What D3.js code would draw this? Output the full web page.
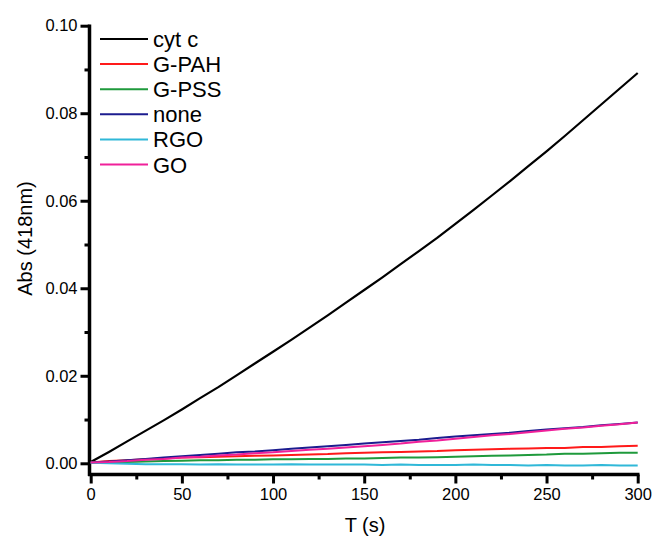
<!DOCTYPE html>
<html>
<head>
<meta charset="utf-8">
<script src="https://cdn.jsdelivr.net/npm/d3@7"></script>
<style>
  body { margin: 0; background: #fff; }
  svg text { font-family: "Liberation Sans", Arial, sans-serif; fill: #000; }
</style>
</head>
<body>
<div id="chart"></div>
<script>
// time points, every 10 s
const times = [0, 10, 20, 30, 40, 50, 60, 70, 80, 90, 100, 110, 120, 130, 140, 150,
  160, 170, 180, 190, 200, 210, 220, 230, 240, 250, 260, 270, 280, 290, 300];

// absorbance at 418 nm
const cytC = [0.0003, 0.0026, 0.0050, 0.0074, 0.0098, 0.0123, 0.0149, 0.0174, 0.0201, 0.0228,
  0.0255, 0.0282, 0.0310, 0.0338, 0.0367, 0.0396, 0.0425, 0.0455, 0.0485, 0.0515,
  0.0547, 0.0579, 0.0612, 0.0645, 0.0679, 0.0713, 0.0748, 0.0784, 0.0820, 0.0856, 0.0892];
const gPAH = [0.0002, 0.0005, 0.0007, 0.0009, 0.0011, 0.0013, 0.0014, 0.0015, 0.0016, 0.0017,
  0.0018, 0.0019, 0.0020, 0.0021, 0.0023, 0.0024, 0.0025, 0.0026, 0.0027, 0.0028,
  0.0030, 0.0031, 0.0032, 0.0033, 0.0034, 0.0035, 0.0035, 0.0037, 0.0037, 0.0039, 0.0040];
const gPSS = [0.0001, 0.0002, 0.0003, 0.0004, 0.0005, 0.0006, 0.0007, 0.0007, 0.0008, 0.0008,
  0.0009, 0.0009, 0.0010, 0.0010, 0.0011, 0.0011, 0.0012, 0.0013, 0.0013, 0.0014,
  0.0015, 0.0016, 0.0017, 0.0018, 0.0019, 0.0020, 0.0022, 0.0022, 0.0023, 0.0024, 0.0024];
const none = [0.0002, 0.0004, 0.0007, 0.0010, 0.0013, 0.0016, 0.0019, 0.0022, 0.0025, 0.0027,
  0.0030, 0.0033, 0.0036, 0.0039, 0.0042, 0.0045, 0.0048, 0.0051, 0.0054, 0.0058,
  0.0061, 0.0064, 0.0067, 0.0070, 0.0074, 0.0077, 0.0080, 0.0083, 0.0087, 0.0090, 0.0093];
const rgo = [0.0001, 0.0000, -0.0001, -0.0002, -0.0002, -0.0002, -0.0003, -0.0002, -0.0003, -0.0003,
  -0.0003, -0.0002, -0.0003, -0.0003, -0.0003, -0.0003, -0.0004, -0.0003, -0.0004, -0.0004,
  -0.0004, -0.0003, -0.0004, -0.0004, -0.0005, -0.0004, -0.0005, -0.0005, -0.0004, -0.0005, -0.0005];
const go = [0.0002, 0.0003, 0.0005, 0.0008, 0.0010, 0.0013, 0.0015, 0.0018, 0.0020, 0.0023,
  0.0025, 0.0028, 0.0031, 0.0033, 0.0036, 0.0039, 0.0042, 0.0045, 0.0049, 0.0052,
  0.0056, 0.0060, 0.0064, 0.0067, 0.0071, 0.0075, 0.0079, 0.0082, 0.0086, 0.0089, 0.0093];

const seriesNames = ["cyt c", "G-PAH", "G-PSS", "none", "RGO", "GO"];
const seriesValues = [cytC, gPAH, gPSS, none, rgo, go];
const seriesColors = ["#000000", "#ff1a1a", "#1f9a3c", "#1c1c8f", "#30b8d8", "#f0209a"];

const yTicks = [0, 0.02, 0.04, 0.06, 0.08, 0.10];
const yMinor = [0.01, 0.03, 0.05, 0.07, 0.09];
const xTicks = [0, 50, 100, 150, 200, 250, 300];
const xMinor = [25, 75, 125, 175, 225, 275];

const width = 655, height = 536;
const axisX = 89.5, axisY = 474.5;

const svg = d3.select("#chart").append("svg")
  .attr("width", width)
  .attr("height", height);

const x = d3.scaleLinear().domain([0, 300]).range([90.7, 637.7]);
const y = d3.scaleLinear().domain([0, 0.1]).range([463.3, 25.7]);

// y axis
svg.append("g")
  .attr("transform", `translate(${axisX},0)`)
  .call(d3.axisLeft(y).tickValues(yTicks).tickSize(9).tickPadding(3)
    .tickFormat(d3.format(".2f")));
svg.append("g")
  .attr("transform", `translate(${axisX},0)`)
  .call(d3.axisLeft(y).tickValues(yMinor).tickSize(5).tickFormat(""));

// x axis
svg.append("g")
  .attr("transform", `translate(0,${axisY})`)
  .call(d3.axisBottom(x).tickValues(xTicks).tickSize(9).tickPadding(5));
svg.append("g")
  .attr("transform", `translate(0,${axisY})`)
  .call(d3.axisBottom(x).tickValues(xMinor).tickSize(5).tickFormat(""));

svg.selectAll(".domain").remove();
svg.selectAll(".tick line").attr("stroke", "#000").attr("stroke-width", 3);
svg.selectAll(".tick text").style("font-size", "16.5px");

// axis lines
svg.append("line")
  .attr("x1", axisX).attr("x2", axisX)
  .attr("y1", 24.5).attr("y2", axisY + 1.5)
  .attr("stroke", "#000").attr("stroke-width", 3.5);
svg.append("line")
  .attr("x1", axisX - 1.5).attr("x2", 639.5)
  .attr("y1", axisY).attr("y2", axisY)
  .attr("stroke", "#000").attr("stroke-width", 3.5);

// series
const line = d3.line()
  .x((d, i) => x(times[i]))
  .y((d) => y(d));

svg.append("g")
  .selectAll("path")
  .data(seriesValues)
  .join("path")
  .attr("d", line)
  .attr("fill", "none")
  .attr("stroke", (d, i) => seriesColors[i])
  .attr("stroke-width", (d, i) => (i === 0 ? 2.2 : 2))
  .attr("stroke-linejoin", "round");

// legend
const legend = svg.append("g")
  .selectAll("g")
  .data(seriesNames)
  .join("g")
  .attr("transform", (d, i) => `translate(100,${39 + i * 25.1})`);
legend.append("line")
  .attr("x1", 0).attr("x2", 48)
  .attr("stroke", (d, i) => seriesColors[i])
  .attr("stroke-width", 2);
legend.append("text")
  .attr("x", 53)
  .attr("y", 8)
  .style("font-size", "22px")
  .text((d) => d);

// axis titles
svg.append("text")
  .attr("x", 365)
  .attr("y", 531.5)
  .attr("text-anchor", "middle")
  .style("font-size", "20px")
  .text("T (s)");
svg.append("text")
  .attr("transform", "translate(32,238.5) rotate(-90)")
  .attr("text-anchor", "middle")
  .style("font-size", "20px")
  .text("Abs (418nm)");
</script>
</body>
</html>
